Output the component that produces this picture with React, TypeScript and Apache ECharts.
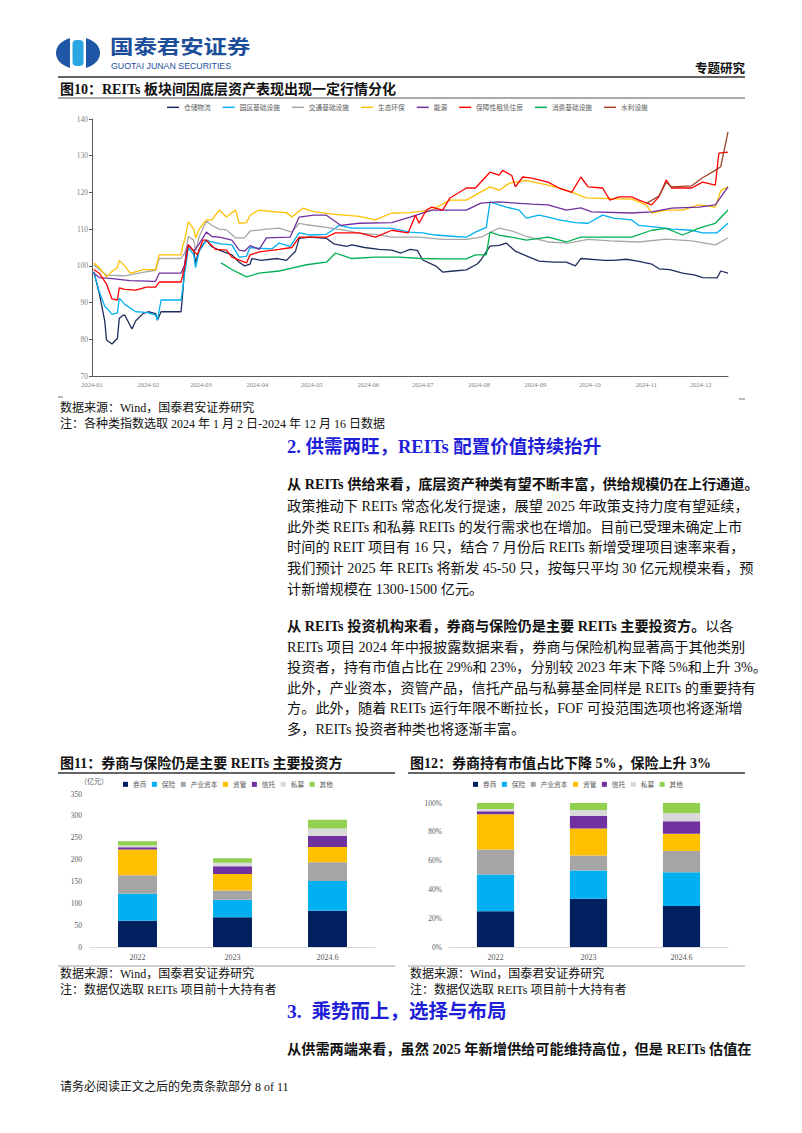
import React, { useEffect, useRef } from "react";
import * as echarts from "echarts";

// ---------------- Figure 10: REITs sector indices ----------------
const lineNames = ["仓储物流", "园区基础设施", "交通基础设施", "生态环保", "能源", "保障性租赁住房", "消费基础设施", "水利设施"];

const warehouseLogistics: [string, number][] = [["01-02",98.4],["01-05",92.5],["01-08",85],["01-09",79.8],["01-12",78.7],["01-15",80.3],["01-16",85.7],["01-18",86.5],["01-19",86.6],["01-23",82.8],["01-25",85],["01-29",87],["02-01",87.5],["02-05",87],["02-06",85.2],["02-08",87.5],["02-19",87.5],["02-20",93],["02-21",100],["02-22",104],["02-23",105.7],["02-26",104],["02-27",100.8],["02-29",104.5],["03-04",107],["03-07",105.2],["03-11",104.3],["03-18",103],["03-22",101],["03-25",100],["03-28",100.5],["03-29",102],["04-03",101.5],["04-12",102],["04-17",101.5],["04-22",104],["04-24",107.5],["04-30",107.8],["05-09",107.5],["05-13",106],["05-20",105.3],["05-23",105.7],["05-30",105],["06-07",104.5],["06-14",104.3],["06-19",103.5],["06-24",104.5],["06-28",104.2],["07-01",101.6],["07-08",100],["07-12",98.3],["07-18",98.6],["07-25",98.9],["07-31",100.5],["08-02",101.6],["08-07",105.4],["08-12",105.6],["08-16",106.2],["08-21",104],["08-28",102.5],["09-03",101.3],["09-11",101],["09-18",101],["09-23",100],["09-26",102],["10-09",101.5],["10-14",101.5],["10-21",101.8],["10-28",101.2],["11-04",100.5],["11-08",99.2],["11-14",99],["11-21",98],["11-28",97.5],["12-02",96.8],["12-10",96.7],["12-12",98.6],["12-16",98]];

const parkInfra: [string, number][] = [["01-02",98.3],["01-05",93],["01-08",89],["01-10",88],["01-12",86.8],["01-15",87.2],["01-16",91.2],["01-19",89.5],["01-22",88.5],["01-25",87.5],["01-29",87.4],["02-01",87.2],["02-05",86.6],["02-06",85.2],["02-08",90.7],["02-19",90.7],["02-20",94],["02-21",98],["02-22",101],["02-23",105],["02-26",103],["02-27",99.5],["02-29",104],["03-04",107],["03-07",106.5],["03-12",106],["03-18",105.7],["03-22",102.4],["03-26",102.6],["03-28",105],["04-02",104.8],["04-09",104.6],["04-13",106.2],["04-19",105.3],["04-24",109],["04-30",108.4],["05-09",108.6],["05-16",111],["05-23",110.3],["06-05",110.3],["06-14",110.2],["06-24",109.2],["07-01",109],["07-08",108.4],["07-19",108],["07-25",107.8],["07-30",109.2],["08-05",110.5],["08-07",117.4],["08-12",116.6],["08-16",116],["08-23",115.2],["08-27",113],["09-03",113.8],["09-08",113.3],["09-14",112.5],["09-23",111.8],["09-30",111.6],["10-08",113.8],["10-14",113],["10-24",112.5],["10-28",111],["11-08",110.5],["11-15",110],["11-26",109.7],["12-02",109],["12-10",109],["12-16",111.6]];

const transportInfra: [string, number][] = [["01-02",100.3],["01-05",99],["01-09",97.5],["01-19",97.3],["01-29",98.2],["02-05",98.8],["02-07",102],["02-19",102],["02-21",103.5],["02-22",105],["02-23",108],["02-26",107],["02-27",104],["02-29",108],["03-04",112.2],["03-07",111],["03-11",110],["03-15",109.8],["03-20",107.6],["03-25",107.6],["03-28",109.5],["04-06",110],["04-13",110.3],["04-20",109.2],["04-24",111.6],["04-28",111.2],["05-09",110.5],["05-21",109.5],["05-27",108.9],["06-05",108.6],["06-14",107.8],["06-29",107.8],["07-12",107.2],["07-25",107.2],["08-02",107.8],["08-12",110.3],["08-19",109.5],["08-27",108],["09-08",106.5],["09-19",106.2],["09-30",107.2],["10-12",106.8],["10-28",106.5],["11-12",107.3],["11-26",106.8],["12-09",105.7],["12-16",107.6]];

const ecoEnv: [string, number][] = [["01-02",100.8],["01-05",99.5],["01-09",97],["01-12",98.5],["01-15",99.5],["01-16",101.5],["01-19",100],["01-22",98],["01-26",98.5],["01-29",99],["02-05",99],["02-07",103],["02-19",103],["02-20",105.7],["02-21",107],["02-23",112],["02-26",110],["02-27",107.6],["02-29",110],["03-04",112.5],["03-07",112.5],["03-11",115.2],["03-15",113.3],["03-20",115.2],["03-22",111.6],["03-26",111.8],["03-28",113.8],["04-02",115.2],["04-09",114.8],["04-17",114.5],["04-20",113.3],["04-26",115.7],["05-02",114.8],["05-14",114],["05-27",113.5],["06-05",112.5],["06-14",114.4],["06-24",114.5],["07-06",115.2],["07-16",117.9],["07-25",117.9],["08-07",121.5],["08-12",120.6],["08-18",122.6],["08-27",123.2],["09-08",122],["09-18",120.6],["09-29",118.5],["10-13",118.3],["10-24",118.2],["11-01",116.6],["11-04",114.4],["11-12",115.2],["11-21",115.2],["11-30",116.6],["12-09",116],["12-12",120.5],["12-16",121.5]];

const energy: [string, number][] = [["01-02",98],["01-05",96.8],["01-12",96.5],["01-22",96],["02-05",95.8],["02-07",98],["02-19",98],["02-21",100.3],["02-22",104],["02-23",105.7],["02-26",104],["02-29",106],["03-04",109.2],["03-07",108],["03-11",107.8],["03-18",107],["03-22",104.3],["03-25",104],["03-28",105.5],["04-02",104.5],["04-06",107.6],["04-19",107.8],["04-24",113.3],["05-02",113.8],["05-09",113.8],["05-17",111],["05-27",111.6],["06-14",111.8],["06-24",113.3],["07-06",115.2],["07-25",115.2],["08-02",117.1],["08-12",117.4],["08-30",116.8],["09-08",116.6],["09-18",115.2],["09-26",115.8],["10-02",114.7],["10-24",114.4],["11-04",114.7],["11-15",115.7],["11-30",116],["12-09",116.6],["12-16",121.5]];

const rentalHousing: [string, number][] = [["01-02",99],["01-05",98],["01-09",95],["01-12",91],["01-15",90.7],["01-16",94],["01-19",93.6],["01-25",93.4],["01-31",94.2],["02-05",94.2],["02-07",95.6],["02-19",95.6],["02-21",99.7],["02-23",105.7],["02-26",104],["02-28",103],["03-02",107],["03-04",107],["03-09",104.5],["03-15",104.3],["03-18",102.4],["03-26",100.8],["03-28",103],["04-02",103.8],["04-13",104.5],["04-20",105],["04-24",107.8],["05-09",107.8],["05-14",109],["05-27",109],["06-05",107.8],["06-14",109.7],["06-23",109],["06-27",113.8],["06-29",111.6],["07-03",115.2],["07-06",116],["07-12",115.2],["07-16",118.5],["07-25",121.2],["07-30",121.2],["08-07",125.5],["08-12",124.7],["08-14",126],["08-19",124.6],["08-21",121.5],["08-25",124.2],["08-30",123.9],["09-08",122.8],["09-14",121.2],["09-21",120],["09-26",124.2],["09-30",121.5],["10-08",121.2],["10-12",117.9],["10-17",118.8],["10-24",118.8],["10-28",117.9],["11-04",116.6],["11-08",118.8],["11-12",123.4],["11-15",121.2],["11-26",121.2],["12-02",122.8],["12-09",122],["12-11",130.7],["12-16",131]];

const consumerInfra: [string, number][] = [["03-12",100.8],["03-18",99],["03-26",97],["04-02",98],["04-13",98.6],["04-20",99.4],["04-28",100.3],["05-09",101],["05-14",103.5],["05-23",102],["06-05",102.4],["06-18",102.4],["06-30",102],["07-12",101.9],["07-25",101.9],["07-30",103],["08-05",103],["08-07",109.2],["08-12",108.4],["08-21",107.6],["08-27",107],["09-08",107.8],["09-18",106.5],["09-26",107.8],["10-08",107.8],["10-24",107.8],["11-04",109.7],["11-12",110.2],["11-21",108.4],["11-30",110.3],["12-09",111.6],["12-16",115.2]];

const waterConservancy: [string, number][] = [["11-01",117],["11-08",119],["11-12",122.8],["11-15",121.5],["11-26",121.8],["12-02",124],["12-09",126],["12-12",127],["12-16",136.5]];

const lineData = [warehouseLogistics, parkInfra, transportInfra, ecoEnv, energy, rentalHousing, consumerInfra, waterConservancy];
const lineColors = ["#1f2d5e", "#00b0f0", "#a6a6a6", "#ffc000", "#7030a0", "#ff0000", "#00b050", "#a0422a"];

// ---------------- Figures 11 & 12: holders ----------------
const barCategories = ["2022", "2023", "2024.6"];
const investorTypes = ["券商", "保险", "产业资本", "资管", "信托", "私募", "其他"];
const brokers = [60, 68, 83];
const insurers = [62, 40, 68];
const industrialCapital = [42, 21, 43];
const assetManagement = [59, 38, 35];
const trusts = [5, 18, 25];
const privateFunds = [4, 8, 17];
const others = [10, 10, 20];
const holderValues = [brokers, insurers, industrialCapital, assetManagement, trusts, privateFunds, others];
const barColors = ["#002060", "#00b0f0", "#a5a5a5", "#ffc000", "#7030a0", "#d9d9d9", "#92d050"];

const SERIF = "'Liberation Serif','Noto Sans CJK SC',serif";
const SANS = "'Noto Sans CJK SC','Liberation Sans',sans-serif";

function txt(text: string, x: number, y: number, size: number, o: any = {}) {
  const st: any = {
    text,
    fontSize: size,
    fontFamily: o.family || SERIF,
    fontWeight: o.bold ? "bold" : "normal",
    fill: o.color || "#111",
    align: o.align || "left",
    verticalAlign: "middle",
    textAlign: o.align || "left",
    textVerticalAlign: "middle",
  };
  if (o.rich) st.rich = o.rich;
  const el: any = { type: "text", x, y, silent: true, style: st };
  if (o.scaleX) el.scaleX = o.scaleX;
  return el;
}
function ln(x1: number, y1: number, x2: number, y2: number, color: string, w: number) {
  return { type: "line", silent: true, shape: { x1, y1, x2, y2 }, style: { stroke: color, lineWidth: w } };
}

export default function App() {
  const ref = useRef<HTMLDivElement>(null);
  useEffect(() => {
    if (!ref.current) return;
    const chart = echarts.init(ref.current, null, { renderer: "svg" });
    const totals = barCategories.map((_, j) => holderValues.reduce((s, arr) => s + arr[j], 0));
    const blue = "#1d4e9a";
    const headBlue = "#1f1fd8";
    const bodySize = 14.2;
    const bodyX = 287;
    const bodyLines: [string, number][] = [
      ["政策推动下 REITs 常态化发行提速，展望 2025 年政策支持力度有望延续，", 506],
      ["此外类 REITs 和私募 REITs 的发行需求也在增加。目前已受理未确定上市", 527],
      ["时间的 REIT 项目有 16 只，结合 7 月份后 REITs 新增受理项目速率来看，", 547],
      ["我们预计 2025 年 REITs 将新发 45-50 只，按每只平均 30 亿元规模来看，预", 568],
      ["计新增规模在 1300-1500 亿元。", 589],
      ["REITs 项目 2024 年中报披露数据来看，券商与保险机构显著高于其他类别", 647],
      ["投资者，持有市值占比在 29%和 23%，分别较 2023 年末下降 5%和上升 3%。", 667],
      ["此外，产业资本，资管产品，信托产品与私募基金同样是 REITs 的重要持有", 688],
      ["方。此外，随着 REITs 运行年限不断拉长，FOF 可投范围选项也将逐渐增", 708],
      ["多，REITs 投资者种类也将逐渐丰富。", 729],
    ];

    const graphics: any[] = [
      // logo
      { type: "ellipse", silent: true, shape: { cx: 78, cy: 53, rx: 22, ry: 16 }, style: { fill: "#1f56a5" } },
      { type: "rect", silent: true, shape: { x: 70, y: 36, width: 16, height: 34 }, style: { fill: "#ffffff" } },
      { type: "rect", silent: true, shape: { x: 72.5, y: 40, width: 11, height: 26, r: 4 }, style: { fill: "#2aa7e1" } },
      txt("国泰君安证券", 110, 45.5, 19.5, { bold: true, family: SANS, color: blue, scaleX: 1.2 }),
      txt("GUOTAI JUNAN SECURITIES", 111, 66, 8.8, { family: "'Liberation Sans',sans-serif", color: blue }),
      txt("专题研究", 745, 69, 12.5, { bold: true, align: "right" }),
      ln(58, 77, 745, 77, "#333333", 1.5),
      txt("图10：REITs 板块间因底层资产表现出现一定行情分化", 60, 89, 14, { bold: true }),
      ln(58, 98, 745, 98, "#555555", 1),
      ln(58, 397, 63, 397, "#777777", 1),
      ln(739, 399, 745, 399, "#777777", 1),
      txt("数据来源：Wind，国泰君安证券研究", 60, 408, 12),
      txt("注：各种类指数选取 2024 年 1 月 2 日-2024 年 12 月 16 日数据", 60, 424, 12),
      txt("2. 供需两旺，REITs 配置价值持续抬升", bodyX, 447, 18.5, { bold: true, color: headBlue }),
      txt("从 REITs 供给来看，底层资产种类有望不断丰富，供给规模仍在上行通道。", bodyX, 484, bodySize, { bold: true }),
      ...bodyLines.map(([t, y]) => txt(t, bodyX, y, bodySize)),
      txt("{b|从 REITs 投资机构来看，券商与保险仍是主要 REITs 主要投资方。}{n|以各}", bodyX, 626, bodySize, {
        rich: {
          b: { fontWeight: "bold", fontSize: bodySize, fontFamily: SERIF, fill: "#111" },
          n: { fontWeight: "normal", fontSize: bodySize, fontFamily: SERIF, fill: "#111" },
        },
      }),
      txt("图11：券商与保险仍是主要 REITs 主要投资方", 60, 763, 14, { bold: true }),
      txt("图12：券商持有市值占比下降 5%，保险上升 3%", 410, 763, 14, { bold: true }),
      ln(58, 773, 395, 773, "#333333", 1.3),
      ln(408, 773, 745, 773, "#333333", 1.3),
      txt("（亿元）", 80, 782, 7, { color: "#595959" }),
      ln(58, 966, 395, 966, "#888888", 0.8),
      ln(408, 966, 745, 966, "#888888", 0.8),
      txt("数据来源：Wind，国泰君安证券研究", 60, 974, 12),
      txt("数据来源：Wind，国泰君安证券研究", 410, 974, 12),
      txt("注：数据仅选取 REITs 项目前十大持有者", 60, 990, 12),
      txt("注：数据仅选取 REITs 项目前十大持有者", 410, 990, 12),
      txt("3.  乘势而上，选择与布局", bodyX, 1011, 19.5, { bold: true, color: headBlue }),
      txt("从供需两端来看，虽然 2025 年新增供给可能维持高位，但是 REITs 估值在", bodyX, 1049, bodySize, { bold: true }),
      txt("请务必阅读正文之后的免责条款部分 8 of 11", 60, 1087, 12),
    ];

    const monthFmt = (v: number) => {
      const d = new Date(v);
      return `${d.getFullYear()}-${String(d.getMonth() + 1).padStart(2, "0")}`;
    };

    const legendText = { fontSize: 6.7, color: "#595959", fontFamily: SERIF };

    const option: any = {
      animation: false,
      backgroundColor: "#ffffff",
      legend: [
        { data: lineNames, left: 167, top: 104, icon: "rect", itemWidth: 12, itemHeight: 1.5, itemGap: 12, padding: 0, selectedMode: false, textStyle: legendText },
        { data: investorTypes, left: 123, top: 781, icon: "rect", itemWidth: 5, itemHeight: 5, itemGap: 5.5, padding: 0, selectedMode: false, textStyle: legendText },
        { data: investorTypes, left: 473, top: 781, icon: "rect", itemWidth: 5, itemHeight: 5, itemGap: 5.5, padding: 0, selectedMode: false, textStyle: legendText },
      ],
      grid: [
        { left: 92, top: 119, width: 636, height: 257 },
        { left: 90, top: 794, width: 285, height: 153 },
        { left: 449, top: 803, width: 279, height: 144 },
      ],
      xAxis: [
        {
          type: "time", gridIndex: 0, min: "2024-01-01", max: "2024-12-16", splitNumber: 12,
          minInterval: 28 * 86400000, maxInterval: 31 * 86400000,
          axisLine: { lineStyle: { color: "#595959", width: 1 } }, axisTick: { show: false }, splitLine: { show: false },
          axisLabel: { fontSize: 6.5, color: "#7f7f7f", fontFamily: SERIF, margin: 5, formatter: monthFmt, hideOverlap: false },
        },
        {
          type: "category", gridIndex: 1, data: barCategories,
          axisLine: { lineStyle: { color: "#d9d9d9" } }, axisTick: { show: false },
          axisLabel: { fontSize: 8, color: "#595959", fontFamily: SERIF, margin: 6 },
        },
        {
          type: "category", gridIndex: 2, data: barCategories,
          axisLine: { lineStyle: { color: "#d9d9d9" } }, axisTick: { show: false },
          axisLabel: { fontSize: 8, color: "#595959", fontFamily: SERIF, margin: 6 },
        },
      ],
      yAxis: [
        {
          type: "value", gridIndex: 0, min: 70, max: 140, interval: 10,
          axisLine: { show: true, lineStyle: { color: "#595959", width: 1 } },
          axisTick: { show: true, length: 3, lineStyle: { color: "#595959" } }, splitLine: { show: false },
          axisLabel: { fontSize: 7.5, color: "#7f7f7f", fontFamily: SERIF, margin: 4 },
        },
        {
          type: "value", gridIndex: 1, min: 0, max: 350, interval: 50,
          axisLine: { show: false }, axisTick: { show: false }, splitLine: { show: false },
          axisLabel: { fontSize: 7.5, color: "#595959", fontFamily: SERIF, margin: 8 },
        },
        {
          type: "value", gridIndex: 2, min: 0, max: 100, interval: 20,
          axisLine: { show: false }, axisTick: { show: false }, splitLine: { show: false },
          axisLabel: { fontSize: 7.5, color: "#595959", fontFamily: SERIF, margin: 7, formatter: "{value}%" },
        },
      ],
      series: [
        ...lineData.map((arr, i) => ({
          type: "line", name: lineNames[i], xAxisIndex: 0, yAxisIndex: 0,
          showSymbol: false, symbol: "none",
          lineStyle: { width: 1.3, color: lineColors[i] }, itemStyle: { color: lineColors[i] },
          data: arr.map(([d, v]) => [`2024-${d}`, v]),
        })),
        ...holderValues.map((arr, i) => ({
          type: "bar", name: investorTypes[i], stack: "abs", xAxisIndex: 1, yAxisIndex: 1,
          barWidth: "41%", itemStyle: { color: barColors[i] }, data: arr,
        })),
        ...holderValues.map((arr, i) => ({
          type: "bar", name: investorTypes[i], stack: "pct", xAxisIndex: 2, yAxisIndex: 2,
          barWidth: "40%", itemStyle: { color: barColors[i] },
          data: arr.map((v, j) => +((v / totals[j]) * 100).toFixed(2)),
        })),
      ],
      graphic: { elements: graphics },
    };
    chart.setOption(option);
    return () => chart.dispose();
  }, []);
  return (
    <div
      ref={ref}
      style={{ position: "absolute", left: 0, top: 0, width: 802, height: 1133, background: "#fff" }}
    />
  );
}
